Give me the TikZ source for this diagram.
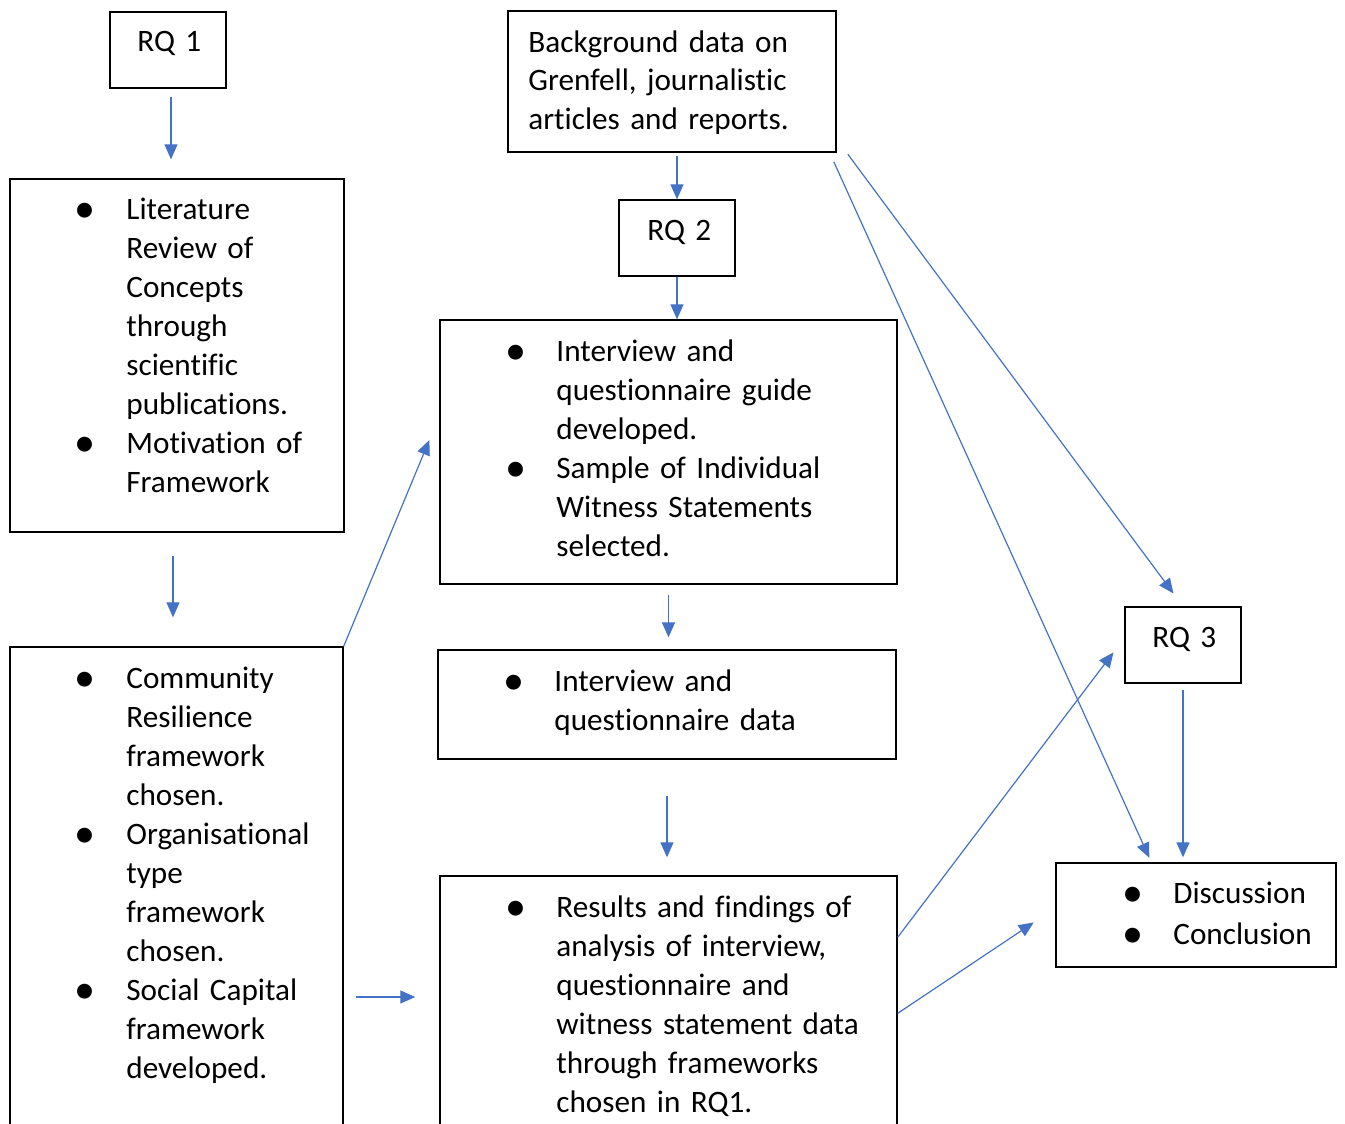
\documentclass[tikz,border=0pt]{standalone}
\usepackage{fontspec}
\setmainfont[Ligatures=NoCommon]{Carlito}
\usetikzlibrary{fit,arrows.meta}
\definecolor{flowblue}{HTML}{4472C4}
\newcommand{\bul}{\makebox[24.5pt][l]{\hspace{-1.2pt}\raisebox{-1.6pt}{\scalebox{1.35}{\textbullet}}}}
\newcommand{\ind}{\hspace*{24.5pt}}

\begin{document}
\begin{tikzpicture}[x=0.5pt,y=-0.5pt]
	\tikzset{box/.style={draw,line width=0.65pt,inner sep=0pt},
		txt/.style={anchor=base west,inner sep=0pt,text width=230pt,align=left,
			font=\fontsize{15.6pt}{19.5pt}\selectfont},
		flow/.style={draw=flowblue,line width=0.6pt,-{Triangle[length=7.5pt,width=6.5pt]}}}
	\clip (0,0) rectangle (1345,1124);

	%% Boxes
	\node[box,fit={(110,12) (226,88)}] (rq1) {};
	\node[box,fit={(10,179) (344,532)}] (lit) {};
	\node[box,fit={(10,647) (343,1140)}] (cr) {};
	\node[box,fit={(508,11) (836,152)}] (bg) {};
	\node[box,fit={(619,200) (735,276)}] (rq2) {};
	\node[box,fit={(440,320) (897,584)}] (guide) {};
	\node[box,fit={(438,650) (896,759)}] (data) {};
	\node[box,fit={(440,876) (897,1140)}] (results) {};
	\node[box,fit={(1125,607) (1241,683)}] (rq3) {};
	\node[box,fit={(1056,863) (1336,967)}] (disc) {};

	%% Texts
	\node[txt] (rq1-t) at (137,51) {RQ 1};
	\node[txt] (rq2-t) at (647,240) {RQ 2};
	\node[txt] (rq3-t) at (1152,647) {RQ 3};
	\node[txt] (bg-t) at (528,52) {Background data on\\ Grenfell, journalistic\\ articles and reports.};
	\node[txt] (lit-t) at (77,219) {\bul Literature\\ \ind Review of\\ \ind Concepts\\
		\ind through\\ \ind scientific\\ \ind publications.\\ \bul Motivation of\\ \ind Framework};
	\node[txt] (cr-t) at (77,688) {\bul Community\\ \ind Resilience\\ \ind framework\\ \ind chosen.\\
		\bul Organisational\\ \ind type\\ \ind framework\\ \ind chosen.\\
		\bul Social Capital\\ \ind framework\\ \ind developed.};
	\node[txt] (guide-t) at (507,361) {\bul Interview and\\ \ind questionnaire guide\\ \ind developed.\\
		\bul Sample of Individual\\ \ind Witness Statements\\ \ind selected.};
	\node[txt] (data-t) at (505,691) {\bul Interview and\\ \ind questionnaire data};
	\node[txt] (results-t) at (507,917) {\bul Results and findings of\\ \ind analysis of interview,\\
		\ind questionnaire and\\ \ind witness statement data\\ \ind through frameworks\\ \ind chosen in RQ1.};
	\node[txt,font=\fontsize{15.6pt}{20.5pt}\selectfont] (disc-t) at (1124,903) {\bul Discussion\\ \bul Conclusion};

	%% Connectors
	\draw[flow,shorten <=4pt,shorten >=9.5pt] ([xshift=1.5pt]rq1.south) -- ([xshift=1.5pt]rq1.south |- lit.north);
	\draw[flow,shorten <=11.5pt,shorten >=14.5pt] ([xshift=-2pt]lit.south) -- ([xshift=-2pt]lit.south |- cr.north);
	\draw[flow,shorten >=13pt] (cr.north east) -- ([yshift=18pt]guide.west);
	\draw[flow,shorten <=6pt,shorten >=12pt] ([yshift=5.5pt]results.west -| cr.east) -- ([yshift=5.5pt]results.west);
	\draw[flow,shorten <=1.5pt] (bg.south -| rq2.north) -- (rq2.north);
	\draw[flow] (rq2.south) -- (rq2.south |- guide.north);
	\draw[flow,shorten <=5pt,shorten >=6pt] (guide.south) -- (guide.south |- data.north);
	\draw[flow,shorten <=18pt,shorten >=9pt] (data.south) -- (data.south |- results.north);
	\draw[flow,shorten <=5pt,shorten >=2.5pt] ([xshift=-3.5pt]bg.south east) -- ([xshift=48pt]disc.north west);
	\draw[flow,shorten <=1pt,shorten >=8pt] ([xshift=5pt]bg.south east) -- (rq3.north);
	\draw[flow,shorten >=9pt] ([yshift=-31pt]results.north east) -- ([yshift=3.5pt]rq3.west);
	\draw[flow,shorten >=13pt] ([yshift=-69pt]results.north east) -- ([yshift=3.5pt]disc.west);
	\draw[flow,shorten <=3pt,shorten >=2.5pt] (rq3.south) -- (rq3.south |- disc.north);
\end{tikzpicture}
\end{document}
